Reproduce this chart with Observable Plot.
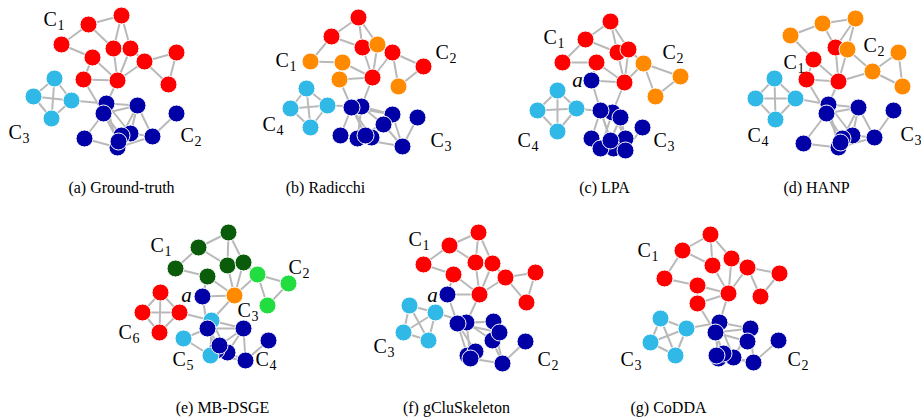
<!DOCTYPE html>
<html><head><meta charset="utf-8">
<script src="https://cdn.jsdelivr.net/npm/d3@7"></script>
<script src="https://cdn.jsdelivr.net/npm/@observablehq/plot@0.6"></script>
<style>body{margin:0;background:#fff}</style>
</head><body><div id="chart"></div>
<script>
// Panels and captions
const panels = ["a","b","c","d","e","f","g"];
const captions = ["(a) Ground-truth","(b) Radicchi","(c) LPA","(d) HANP","(e) MB-DSGE","(f) gCluSkeleton","(g) CoDDA"];
const captionX = [121,325,604,816,222,456,668];
const captionY = [187,187,187,187,407,407,407];

// Node positions per panel (canonical node order: r0..r10, c0..c3, b0..b9)
const posA = [[121,15],[88,24],[61,44],[113,48],[130,48],[92,57],[144,61],[176,52],[83,79],[117,80],[168,84],
  [54,78],[33,96],[71,100],[51,118],
  [106,103],[103,113],[137,105],[176,113],[84,138],[130,133],[121,135],[117,147],[152,136],[118,141]];
const posB = [[358,17],[331,36],[310,61],[362,47],[377,44],[342,62],[392,52],[423,66],[339,79],[372,77],[398,86],
  [306,88],[290,108],[327,105],[310,127],
  [361,106],[351,107],[392,114],[417,117],[340,135],[383,124],[371,137],[357,138],[402,146],[365,135]];
const posC = [[610,21],[585,39],[562,62],[617,52],[628,49],[596,62],[643,63],[680,76],[591,80],[624,82],[655,96],
  [557,90],[537,110],[576,108],[557,131],
  [612,112],[600,110],[620,117],[642,127],[591,138],[625,138],[613,148],[600,148],[625,150],[610,140]];
const posD = [[855,18],[822,23],[790,35],[835,47],[847,49],[813,59],[872,71],[898,52],[806,79],[838,81],[902,86],
  [774,78],[755,98],[795,98],[775,119],
  [828,104],[826,113],[858,107],[893,110],[803,143],[852,135],[842,138],[838,147],[874,137],[840,142]];
const posE = [[228,232],[198,247],[175,268],[227,265],[243,262],[207,276],[257,274],[288,283],[202,296],[234,295],[267,305],
  [160,292],[142,312],[179,312],[159,332],
  [211,320],[207,328],[243,328],[268,340],[183,338],[227,352],[216,350],[210,355],[245,360],[219,345]];
const posF = [[478,232],[449,245],[423,264],[475,262],[492,263],[453,274],[505,277],[535,272],[447,294],[479,294],[526,302],
  [409,305],[403,332],[435,312],[428,340],
  [466,322],[457,323],[493,321],[525,341],[467,355],[492,340],[475,351],[470,358],[502,363],[499,332]];
const posG = [[710,234],[682,250],[664,278],[712,265],[731,258],[697,285],[747,267],[779,273],[697,303],[728,293],[760,296],
  [660,318],[650,342],[686,328],[675,355],
  [719,322],[715,332],[750,328],[778,340],[718,358],[733,357],[723,353],[716,355],[753,362],[747,341]];

// Community of each node per panel
const colA = "RRRRRRRRRRRCCCCBBBBBBBBBB";
const colB = "RROROORROROCCCCBBBBBBBBBB";
const colC = "RRRRRROOBROCCCCBBBBBBBBBB";
const colD = "OOOROROORROCCCCBBBBBBBBBB";
const colE = "GGGGGGLLBOLRRRRCBBBCBBCBB";
const colF = "RRRRRRRRBRRCCCCBBBBBBBBBB";
const colG = "RRRRRRRRRRRCCCCBBBBBBBBBB";

const palette = {R:"#ff0000", O:"#ff8a00", B:"#0000a6", C:"#30b8e6", G:"#0a5c0a", L:"#22dd40"};

// Edges (canonical node indices)
const edges = [[0,1],[0,3],[0,4],[1,2],[1,3],[2,5],[3,9],[4,9],[5,9],[8,9],[6,9],[4,6],[6,7],[7,10],[6,10],[5,8],
  [11,12],[11,13],[12,14],[13,14],[11,14],[12,13],
  [9,15],[13,15],[8,16],
  [15,17],[16,17],[16,19],[19,22],[15,20],[16,21],[16,24],[15,22],[17,20],[17,24],[17,23],[23,18],[20,23],[22,23]];

// Community labels: [subscript, x, y]
const labelsA = [["1",43,25],["3",8,138],["2",180,141]];
const labelsB = [["1",275,66],["2",435,58],["4",262,130],["3",430,146]];
const labelsC = [["1",543,43],["2",662,58],["4",517,146],["3",653,146]];
const labelsD = [["2",863,51],["1",783,68],["4",747,141],["3",900,140]];
const labelsE = [["1",150,251],["2",288,273],["3",237,316],["6",118,338],["5",172,365],["4",255,365]];
const labelsF = [["1",408,245],["3",373,352],["2",537,365]];
const labelsG = [["1",637,256],["3",620,365],["2",787,365]];

// Node "a" labels
const aLabels = [[577,86],[186,301],[432,301]];

const allPos = [posA,posB,posC,posD,posE,posF,posG];
const allCol = [colA,colB,colC,colD,colE,colF,colG];
const allLab = [labelsA,labelsB,labelsC,labelsD,labelsE,labelsF,labelsG];

const nodes = [], links = [], labs = [];
panels.forEach((p,i) => {
  const pos = allPos[i], col = allCol[i];
  pos.forEach((q,k) => nodes.push({panel:p, x:q[0], y:q[1], c:palette[col[k]]}));
  edges.forEach(([s,t]) => links.push({x1:pos[s][0], y1:pos[s][1], x2:pos[t][0], y2:pos[t][1]}));
  allLab[i].forEach(([n,x,y]) => labs.push({n,x,y}));
});
const caps = captions.map((t,i) => ({t, x:captionX[i], y:captionY[i]}));
const aL = aLabels.map(([x,y]) => ({x,y}));

const plot = Plot.plot({
  width: 921, height: 419,
  margin: 0,
  x: {domain:[0,921], axis:null},
  y: {domain:[419,0], axis:null},
  style: {background:"#fff"},
  marks: [
    Plot.link(links, {x1:"x1", y1:"y1", x2:"x2", y2:"y2", stroke:"#b9b9b9", strokeWidth:2}),
    Plot.dot(nodes, {x:"x", y:"y", r:8.5, fill:d=>d.c, stroke:"#fff", strokeWidth:1}),
    Plot.text(labs, {x:"x", y:"y", text:()=>"C", textAnchor:"start", lineAnchor:"bottom", fontSize:20, fontFamily:"Liberation Serif", fill:"#000"}),
    Plot.text(labs, {x:"x", y:"y", text:"n", textAnchor:"start", lineAnchor:"bottom", dx:14, dy:4, fontSize:14, fontFamily:"Liberation Serif", fill:"#000"}),
    Plot.text(aL, {x:"x", y:"y", text:()=>"a", textAnchor:"middle", lineAnchor:"bottom", fontSize:21, fontStyle:"italic", fontFamily:"Liberation Serif", fill:"#000"}),
    Plot.text(caps, {x:"x", y:"y", text:"t", textAnchor:"middle", fontSize:16, fontFamily:"Liberation Serif", fill:"#000"})
  ]
});
document.getElementById("chart").appendChild(plot);
</script>
</body></html>
